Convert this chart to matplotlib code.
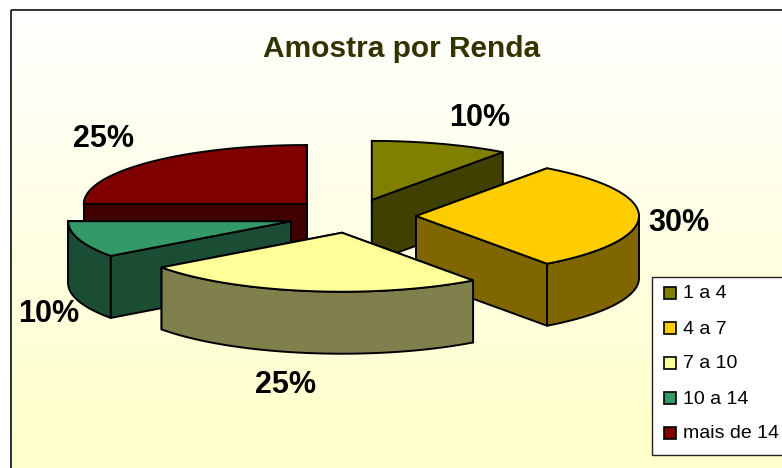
import numpy as np
import matplotlib
matplotlib.use("Agg")
import matplotlib.pyplot as plt
from matplotlib.colors import to_rgb, LinearSegmentedColormap
from matplotlib.patches import Polygon, Rectangle

categories = ["1 a 4", "4 a 7", "7 a 10", "10 a 14", "mais de 14"]
shares = [10, 30, 25, 10, 25]
colors = ["#808000", "#FFCC00", "#FFFF99", "#339966", "#800000"]

# pie geometry in pixels
cx, cy = 352, 216
rx, ry = 223, 59
depth = 62
explode = 0.287

# back to front
draw_order = [4, 0, 1, 3, 2]
label_pos = [(480, 126), (678.5, 231), (285.5, 393), (49, 322), (103, 147)]

plt.rcParams["font.family"] = ["Liberation Sans", "DejaVu Sans"]

fig = plt.figure(figsize=(7.82, 4.68), dpi=100)
ax = fig.add_axes([0, 0, 1, 1])
ax.axis("off")

# chart area with the vertical gradient
cmap = LinearSegmentedColormap.from_list("bg", ["#FFFFFF", "#FFFFCC"])
ax.imshow(np.linspace(0, 1, 256).reshape(-1, 1), cmap=cmap, aspect="auto",
          extent=(11, 790, 440, 10), zorder=0)
ax.add_patch(Rectangle((11, 440), 790, 40, fc="#FFFFCC", ec="none", zorder=0))
ax.set_xlim(0, 782)
ax.set_ylim(468, 0)
ax.add_patch(Rectangle((11, 10), 790, 470, fill=False, ec="#222222", lw=1.3, zorder=1))


def point(ox, oy, deg):
    t = np.radians(deg)
    return ox + rx * np.sin(t), oy - ry * np.cos(t)


def arc(ox, oy, a, b):
    angles = np.linspace(a, b, 60)
    return np.column_stack(point(ox, oy, angles))


def wall(pts):
    return np.vstack([pts, (pts + [0, depth])[::-1]])


z = 2
edges = np.cumsum([0] + shares) * 3.6
for i in draw_order:
    a, b = edges[i], edges[i + 1]
    mid = np.radians((a + b) / 2)
    ox = cx + explode * rx * np.sin(mid)
    oy = cy - explode * ry * np.cos(mid)
    face = to_rgb(colors[i])
    dark = tuple(c * 0.5 for c in face)
    style = dict(fc=dark, ec="black", lw=1.4, joinstyle="round")

    # cut faces, the one nearer the viewer last
    cuts = sorted([a, b], key=lambda d: point(ox, oy, d)[1])
    for d in cuts:
        quad = wall(np.array([(ox, oy), point(ox, oy, d)]))
        ax.add_patch(Polygon(quad, zorder=z, **style))
        z += 1

    # outer wall, only the front half of the rim shows
    lo, hi = max(a, 90), min(b, 270)
    if lo < hi:
        ax.add_patch(Polygon(wall(arc(ox, oy, lo, hi)), zorder=z, **style))
        z += 1

    top = np.vstack([[(ox, oy)], arc(ox, oy, a, b)])
    ax.add_patch(Polygon(top, fc=face, ec="black", lw=1.4, zorder=z))
    z += 1

ax.text(402, 57, "Amostra por Renda", color="#333300", fontsize=21.5,
        fontweight="bold", ha="center", va="baseline", zorder=50)

for (lx, ly), s in zip(label_pos, shares):
    ax.text(lx, ly, f"{s}%", fontsize=22, fontweight="bold", color="black",
            ha="center", va="baseline", zorder=50)

# legend
ax.add_patch(Rectangle((652, 277), 140, 178, fc="white", ec="#222222", lw=1.0, zorder=60))
for k, (name, col) in enumerate(zip(categories, colors)):
    y = 293 + k * 35
    ax.add_patch(Rectangle((663.5, y - 6), 12, 12, fc=col, ec="black", lw=1.2, zorder=61))
    ax.text(683, y + 5.5, name, fontsize=14, color="black", va="baseline", ha="left", zorder=61)

fig.savefig("out.png", dpi=100)
